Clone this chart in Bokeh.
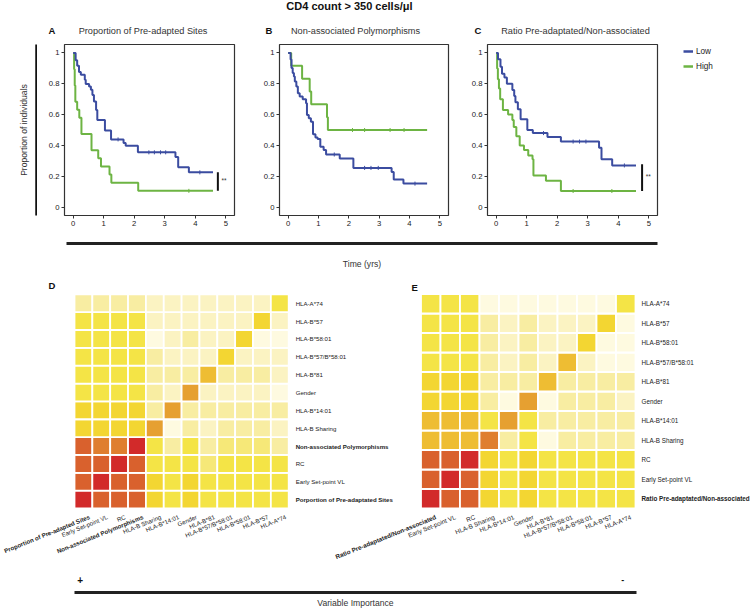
import math
from bokeh.plotting import figure
from bokeh.layouts import column, row
from bokeh.models import (Range1d, FixedTicker, Legend, LegendItem,
                          ColumnDataSource, LinearColorMapper)
from bokeh.core.properties import value, field
from bokeh.transform import transform
from bokeh.embed import file_html
from bokeh.resources import INLINE

FONT = "Liberation Sans"
BLUE = "#3B4CA0"
GREEN = "#6DB443"
PALETTE = ["#FEFAE0", "#FBF3C2", "#F8EDA2", "#F6E878", "#F4E446", "#F3D632",
           "#EEBD33", "#E6A031", "#DF7E2F", "#D9612D", "#D22A2A"]

# ---------------- data ----------------
main_title = "CD4 count > 350 cells/μl"
panel_letters = ["A", "B", "C"]
panel_titles = ["Proportion of Pre-adapted Sites", "Non-associated Polymorphisms",
                "Ratio Pre-adaptated/Non-associated"]
legend_labels = ["Low", "High"]
x_ticks = [0, 1, 2, 3, 4, 5]
y_ticks = [0, 0.2, 0.4, 0.6, 0.8, 1]
y_tick_labels = ["0", "0.2", "0.4", "0.6", "0.8", "1"]
y_axis_title = "Proportion of individuals"
x_axis_title = "Time (yrs)"
importance_title = "Variable Importance"

# Panel A
A_low_t = [0, 0.08, 0.13, 0.19, 0.25, 0.38, 0.41, 0.52, 0.58, 0.63, 0.68, 0.75, 0.79, 1.04,
           1.24, 1.65, 1.72, 2.12, 3.35, 3.44, 3.79, 4.58]
A_low_s = [1.0, 0.952, 0.917, 0.876, 0.859, 0.826, 0.798, 0.783, 0.761, 0.728, 0.685, 0.630,
           0.565, 0.496, 0.439, 0.415, 0.398, 0.355, 0.325, 0.258, 0.225, 0.225]
A_high_t = [0, 0.03, 0.05, 0.07, 0.13, 0.20, 0.27, 0.60, 0.82, 0.91, 1.19, 1.25, 2.13, 4.58]
A_high_s = [1.0, 0.895, 0.789, 0.684, 0.632, 0.579, 0.474, 0.368, 0.316, 0.263, 0.211, 0.158,
            0.105, 0.105]
A_low_cens_t = [1.47, 2.48, 2.66, 2.86, 3.03, 4.15]
A_low_cens_s = [0.439, 0.355, 0.355, 0.355, 0.355, 0.225]
A_high_cens_t = [3.79]
A_high_cens_s = [0.105]
A_sig = [4.74, 0.105, 0.225]

# Panel B
B_low_t = [0, 0.08, 0.11, 0.15, 0.19, 0.22, 0.27, 0.32, 0.38, 0.48, 0.59, 0.62, 0.68, 0.75,
           0.82, 0.90, 0.97, 1.06, 1.17, 1.25, 1.70, 2.15, 3.41, 3.48, 3.80, 4.58]
B_low_s = [1.0, 0.957, 0.902, 0.870, 0.848, 0.815, 0.783, 0.739, 0.717, 0.700, 0.674, 0.598,
           0.576, 0.554, 0.472, 0.452, 0.441, 0.391, 0.370, 0.341, 0.315, 0.254, 0.228, 0.178,
           0.152, 0.152]
B_high_t = [0, 0.10, 0.46, 0.71, 0.76, 1.28, 1.31, 4.58]
B_high_s = [1.0, 0.917, 0.833, 0.750, 0.667, 0.583, 0.500, 0.500]
B_low_cens_t = [1.52, 2.52, 2.73, 2.97, 4.18]
B_low_cens_s = [0.341, 0.254, 0.254, 0.254, 0.152]
B_high_cens_t = [2.12, 2.52, 3.36, 3.82]
B_high_cens_s = [0.5, 0.5, 0.5, 0.5]

# Panel C
C_low_t = [0, 0.06, 0.14, 0.19, 0.27, 0.35, 0.53, 0.59, 0.63, 0.71, 0.80, 1.02, 1.20, 1.68,
           2.12, 3.37, 3.45, 3.80, 4.58]
C_low_s = [1.0, 0.96, 0.91, 0.865, 0.84, 0.80, 0.76, 0.72, 0.68, 0.635, 0.57, 0.50, 0.48,
           0.455, 0.425, 0.385, 0.31, 0.27, 0.27]
C_high_t = [0, 0.03, 0.055, 0.09, 0.13, 0.22, 0.39, 0.53, 0.575, 0.66, 0.77, 0.91, 1.05, 1.19,
            1.22, 1.63, 2.12, 4.58]
C_high_s = [1.0, 0.90, 0.83, 0.77, 0.70, 0.63, 0.60, 0.565, 0.52, 0.46, 0.40, 0.37, 0.335,
            0.31, 0.205, 0.17, 0.104, 0.104]
C_low_cens_t = [1.55, 2.52, 2.73, 2.94, 4.2]
C_low_cens_s = [0.48, 0.425, 0.425, 0.425, 0.27]
C_high_cens_t = [2.52, 3.79]
C_high_cens_s = [0.104, 0.104]
C_sig = [4.78, 0.104, 0.277]

# Heatmap D (rows listed bottom -> top, columns left -> right)
D_cols = ["Proportion of Pre-adapted Sites", "Early Set-point VL", "RC",
          "Non-associated Polymorphisms", "HLA-B Sharing", "HLA-B*14:01", "Gender",
          "HLA-B*81", "HLA-B*57/B*58:01", "HLA-B*58:01", "HLA-B*57", "HLA-A*74"]
D_col_bold = [1, 0, 0, 1, 0, 0, 0, 0, 0, 0, 0, 0]
D_rows = ["Porportion of Pre-adaptated Sites", "Early Set-point VL", "RC",
          "Non-associated Polymorphisms", "HLA-B Sharing", "HLA-B*14:01", "Gender",
          "HLA-B*81", "HLA-B*57/B*58:01", "HLA-B*58:01", "HLA-B*57", "HLA-A*74"]
D_row_bold = [1, 0, 0, 1, 0, 0, 0, 0, 0, 0, 0, 0]
D_values = [
    [1.0, 0.9, 0.9, 0.9, 0.5, 0.4, 0.5, 0.4, 0.4, 0.4, 0.4, 0.4],
    [0.9, 1.0, 0.9, 0.9, 0.5, 0.4, 0.5, 0.4, 0.4, 0.4, 0.4, 0.4],
    [0.9, 0.9, 1.0, 0.9, 0.4, 0.4, 0.4, 0.3, 0.4, 0.4, 0.4, 0.4],
    [0.9, 0.8, 0.8, 1.0, 0.4, 0.2, 0.4, 0.2, 0.3, 0.3, 0.3, 0.2],
    [0.5, 0.5, 0.5, 0.5, 0.7, 0.0, 0.2, 0.1, 0.2, 0.2, 0.2, 0.1],
    [0.5, 0.5, 0.5, 0.5, 0.2, 0.7, 0.2, 0.2, 0.2, 0.2, 0.2, 0.2],
    [0.4, 0.4, 0.4, 0.4, 0.2, 0.1, 0.7, 0.1, 0.1, 0.1, 0.1, 0.0],
    [0.4, 0.4, 0.4, 0.4, 0.2, 0.2, 0.2, 0.6, 0.2, 0.2, 0.2, 0.1],
    [0.4, 0.4, 0.4, 0.4, 0.2, 0.1, 0.1, 0.1, 0.5, 0.1, 0.1, 0.1],
    [0.4, 0.4, 0.4, 0.4, 0.0, 0.1, 0.2, 0.1, 0.1, 0.5, 0.0, 0.0],
    [0.4, 0.4, 0.4, 0.4, 0.1, 0.1, 0.1, 0.1, 0.1, 0.1, 0.5, 0.1],
    [0.2, 0.2, 0.2, 0.2, 0.1, 0.1, 0.1, 0.1, 0.1, 0.1, 0.1, 0.4],
]

# Heatmap E (rows bottom -> top, columns left -> right)
E_cols = ["Ratio Pre-adaptated/Non-associated", "Early Set-point VL", "RC", "HLA-B Sharing",
          "HLA-B*14:01", "Gender", "HLA-B*81", "HLA-B*57/B*58:01", "HLA-B*58:01",
          "HLA-B*57", "HLA-A*74"]
E_col_bold = [1, 0, 0, 0, 0, 0, 0, 0, 0, 0, 0]
E_rows = list(E_cols)
E_row_bold = list(E_col_bold)
E_values = [
    [1.0, 0.9, 0.9, 0.5, 0.4, 0.5, 0.4, 0.4, 0.4, 0.4, 0.4],
    [0.9, 1.0, 0.9, 0.5, 0.4, 0.5, 0.4, 0.4, 0.4, 0.4, 0.4],
    [0.9, 0.9, 1.0, 0.5, 0.4, 0.5, 0.4, 0.4, 0.4, 0.4, 0.4],
    [0.6, 0.6, 0.6, 0.8, 0.2, 0.4, 0.0, 0.2, 0.2, 0.2, 0.2],
    [0.6, 0.6, 0.6, 0.4, 0.7, 0.4, 0.2, 0.2, 0.2, 0.2, 0.2],
    [0.5, 0.5, 0.5, 0.2, 0.0, 0.7, 0.0, 0.2, 0.2, 0.2, 0.1],
    [0.5, 0.5, 0.5, 0.2, 0.2, 0.2, 0.6, 0.2, 0.2, 0.2, 0.2],
    [0.4, 0.4, 0.4, 0.2, 0.1, 0.2, 0.1, 0.6, 0.1, 0.0, 0.0],
    [0.4, 0.4, 0.4, 0.2, 0.1, 0.2, 0.1, 0.1, 0.5, 0.0, 0.0],
    [0.4, 0.4, 0.4, 0.2, 0.1, 0.2, 0.1, 0.1, 0.1, 0.5, 0.0],
    [0.4, 0.4, 0.4, 0.0, 0.0, 0.0, 0.0, 0.0, 0.0, 0.0, 0.4],
]

# ---------------- layout constants (pixels) ----------------
W = 751
TOP_H = 36
KM_TOP, KM_FH, KM_BOT = 8, 171, 16
KM_H = KM_TOP + KM_FH + KM_BOT
TIME_H = 45
HEAT_H = 292
BOT_H = 608 - TOP_H - KM_H - TIME_H - HEAT_H

COMMON = dict(toolbar_location=None, output_backend="svg", frame_align=False)


def blank(p):
    p.outline_line_color = None
    p.xgrid.visible = False
    p.ygrid.visible = False
    p.background_fill_color = "white"
    p.border_fill_color = "white"


def txt(p, x, y, t, size, style="normal", align="left", color="#222222", **kw):
    p.text(x=[x], y=[y], text=[t], text_font=value(FONT), text_font_size=size,
           text_font_style=style, text_align=align, text_baseline="middle",
           text_color=color, **kw)


def canvas_fig(w, h, xr, yr):
    p = figure(frame_width=w, frame_height=h, min_border=0, x_axis_location=None,
               y_axis_location=None, x_range=xr, y_range=yr, **COMMON)
    blank(p)
    return p


# ---------------- top title strip ----------------
top = canvas_fig(W, TOP_H, Range1d(0, W), Range1d(TOP_H, 0))
txt(top, 349, 5.5, main_title, "11px", "bold", "center", "#111111")
letter_x = [48, 265, 474]
title_x = [142.5, 355, 575]
for lx, tx, L, T in zip(letter_x, title_x, panel_letters, panel_titles):
    txt(top, lx, 30, L, "9.5px", "bold", "left", "#111111")
    txt(top, tx, 30, T, "9.2px", "normal", "center", "#333333")

# ---------------- y label strip ----------------
ylab = figure(frame_width=1, frame_height=KM_FH, min_border_left=36, min_border_right=0,
              min_border_top=KM_TOP, min_border_bottom=KM_BOT, x_axis_location=None,
              x_range=Range1d(0, 1), y_range=Range1d(0, 1), **COMMON)
blank(ylab)
ya = ylab.yaxis[0]
ya.ticker = FixedTicker(ticks=[])
ya.axis_line_width = 2.5
ya.axis_line_color = "#111111"
ya.major_tick_out = 0
ya.major_tick_in = 0
ya.minor_tick_out = 0
ya.minor_tick_in = 0
ya.major_label_text_font_size = "0px"
ya.axis_label = y_axis_title
ya.axis_label_text_font = FONT
ya.axis_label_text_font_size = "8.6px"
ya.axis_label_text_font_style = "normal"
ya.axis_label_text_color = "#333333"
ya.axis_label_standoff = 8


# ---------------- KM panels ----------------
def km_fig(left, fw, right):
    p = figure(frame_width=fw, frame_height=KM_FH, min_border_left=left,
               min_border_right=right, min_border_top=KM_TOP, min_border_bottom=KM_BOT,
               x_range=Range1d(-0.285, 5.285), y_range=Range1d(-0.055, 1.055), **COMMON)
    p.outline_line_color = "#333333"
    p.outline_line_width = 1.2
    p.xgrid.visible = False
    p.ygrid.visible = False
    for ax in (p.xaxis[0], p.yaxis[0]):
        ax.axis_line_color = None
        ax.major_tick_in = 0
        ax.major_tick_out = 3
        ax.major_tick_line_color = "#333333"
        ax.minor_tick_line_color = None
        ax.major_label_text_font = FONT
        ax.major_label_text_font_size = "7.7px"
        ax.major_label_text_color = "#222222"
        ax.major_label_standoff = 2
    p.xaxis.ticker = FixedTicker(ticks=x_ticks)
    p.yaxis.ticker = FixedTicker(ticks=y_ticks)
    p.yaxis.major_label_overrides = dict(zip(y_ticks, y_tick_labels))
    return p


def km_draw(p, lt, ls, ht, hs, lct, lcs, hct, hcs, sig=None):
    p.step(ht, hs, mode="after", line_color=GREEN, line_width=2)
    p.step(lt, ls, mode="after", line_color=BLUE, line_width=2)
    p.scatter(hct, hcs, marker="dash", angle=math.pi / 2, size=4, line_color=GREEN,
              line_width=1)
    p.scatter(lct, lcs, marker="dash", angle=math.pi / 2, size=4, line_color=BLUE,
              line_width=1)
    if sig is not None:
        p.segment(x0=[sig[0]], y0=[sig[1]], x1=[sig[0]], y1=[sig[2]], line_color="#111111",
                  line_width=2)
        txt(p, sig[0] + 0.12, (sig[1] + sig[2]) / 2 + 0.01, "**", "6.5px", "normal", "left",
            "#333333")


YL_W = 37
A_L, A_F, A_R = 27, 170, 20
B_L, B_F, B_R = 25, 169, 18
C_L, C_F, C_R = 21, 170, 2
figA = km_fig(A_L, A_F, A_R)
km_draw(figA, A_low_t, A_low_s, A_high_t, A_high_s, A_low_cens_t, A_low_cens_s,
        A_high_cens_t, A_high_cens_s, A_sig)
figB = km_fig(B_L, B_F, B_R)
km_draw(figB, B_low_t, B_low_s, B_high_t, B_high_s, B_low_cens_t, B_low_cens_s,
        B_high_cens_t, B_high_cens_s)
figC = km_fig(C_L, C_F, C_R)
km_draw(figC, C_low_t, C_low_s, C_high_t, C_high_s, C_low_cens_t, C_low_cens_s,
        C_high_cens_t, C_high_cens_s, C_sig)

# ---------------- legend strip ----------------
LEG_W = W - YL_W - (A_L + A_F + A_R) - (B_L + B_F + B_R) - (C_L + C_F + C_R)
leg = canvas_fig(LEG_W, KM_H, Range1d(0, 1), Range1d(0, 1))
r_low = leg.line(x=[0, 1], y=[-5, -5], line_color=BLUE, line_width=2.5)
r_high = leg.line(x=[0, 1], y=[-5, -5], line_color=GREEN, line_width=2.5)
legend = Legend(items=[LegendItem(label=legend_labels[0], renderers=[r_low]),
                       LegendItem(label=legend_labels[1], renderers=[r_high])],
                location=(24, KM_H - 9 - 27), padding=0, margin=0, spacing=3,
                glyph_width=10, glyph_height=12, label_height=12, label_standoff=3,
                label_text_font=FONT, label_text_font_size="8.2px",
                label_text_color="#222222", border_line_color=None,
                background_fill_alpha=0)
leg.add_layout(legend)


# ---------------- axis-bar strips ----------------
def bar_strip(left, fw, right, top_b, fh, bot_b, label, standoff):
    p = figure(frame_width=fw, frame_height=fh, min_border_left=left, min_border_right=right,
               min_border_top=top_b, min_border_bottom=bot_b, y_axis_location=None,
               x_range=Range1d(0, 1), y_range=Range1d(0, 1), **COMMON)
    blank(p)
    ax = p.xaxis[0]
    ax.ticker = FixedTicker(ticks=[])
    ax.axis_line_width = 3
    ax.axis_line_color = "#222222"
    ax.major_tick_out = 0
    ax.major_tick_in = 0
    ax.minor_tick_out = 0
    ax.minor_tick_in = 0
    ax.major_label_text_font_size = "0px"
    ax.major_label_standoff = 0
    ax.axis_label = label
    ax.axis_label_text_font = FONT
    ax.axis_label_text_font_size = "8.6px"
    ax.axis_label_text_font_style = "normal"
    ax.axis_label_text_color = "#333333"
    ax.axis_label_standoff = standoff
    return p


timefig = bar_strip(66, 591, W - 66 - 591, 10, 2, TIME_H - 12, x_axis_title, 15)

# ---------------- heatmaps ----------------
cD, D_left, D_bot = 17.85, 74.0, 232.0
cE, E_left, E_bot = 19.5, 420.5, 232.0
heat = canvas_fig(W, HEAT_H, Range1d(-D_left / cD, (W - D_left) / cD),
                  Range1d(-(HEAT_H - D_bot) / cD, D_bot / cD))
heat.extra_x_ranges = {"E": Range1d(-E_left / cE, (W - E_left) / cE), "px": Range1d(0, W)}
heat.extra_y_ranges = {"E": Range1d(-(HEAT_H - E_bot) / cE, E_bot / cE),
                       "px": Range1d(HEAT_H, 0)}
mapper = LinearColorMapper(palette=PALETTE, low=-0.05, high=1.05)


def draw_heat(vals, rows, row_bold, cols, col_bold, fsize, rname, row_dx, col_dx):
    kw = {} if rname is None else dict(x_range_name=rname, y_range_name=rname)
    xs, ys, vs = [], [], []
    for i, rv in enumerate(vals):
        for j, v in enumerate(rv):
            xs.append(j + 0.5)
            ys.append(i + 0.5)
            vs.append(v)
    src = ColumnDataSource(dict(x=xs, y=ys, v=vs))
    heat.rect(x="x", y="y", width=1, height=1, source=src,
              fill_color=transform("v", mapper), line_color="white", line_width=1.8, **kw)
    rsrc = ColumnDataSource(dict(x=[len(cols)] * len(rows),
                                 y=[i + 0.5 for i in range(len(rows))], t=rows,
                                 st=["bold" if b else "normal" for b in row_bold]))
    heat.text(x="x", y="y", text="t", source=rsrc, x_offset=row_dx, text_align="left",
              text_baseline="middle", text_font=value(FONT), text_font_size=fsize,
              text_font_style=field("st"), text_color="#222222", **kw)
    csrc = ColumnDataSource(dict(x=[j + 0.5 for j in range(len(cols))], y=[0] * len(cols),
                                 t=cols, st=["bold" if b else "normal" for b in col_bold]))
    heat.text(x="x", y="y", text="t", source=csrc, angle=math.radians(22),
              x_offset=col_dx, y_offset=8, text_align="right", text_baseline="middle",
              text_font=value(FONT), text_font_size=fsize, text_font_style=field("st"),
              text_color="#222222", **kw)


draw_heat(D_values, D_rows, D_row_bold, D_cols, D_col_bold, "6.1px", None, 7, 6)
draw_heat(E_values, E_rows, E_row_bold, E_cols, E_col_bold, "6.3px", "E", 6, 5)
for lx, ly, L in [(48, 9, "D"), (411, 11, "E")]:
    txt(heat, lx, ly, L, "9.5px", "bold", "left", "#111111", x_range_name="px",
        y_range_name="px")

# ---------------- variable importance strip ----------------
bottom = bar_strip(74, 562, W - 74 - 562, 4, 20, BOT_H - 24, importance_title, 5)
txt(bottom, 0.005, 0.65, "+", "10px", "bold", "left", "#111111")
txt(bottom, 0.973, 0.62, "-", "9px", "bold", "left", "#111111")

layout = column(top, row(ylab, figA, figB, figC, leg), timefig, heat, bottom)

with open("out.html", "w") as f:
    f.write(file_html(layout, INLINE, title="CD4 count > 350 cells/μl"))
